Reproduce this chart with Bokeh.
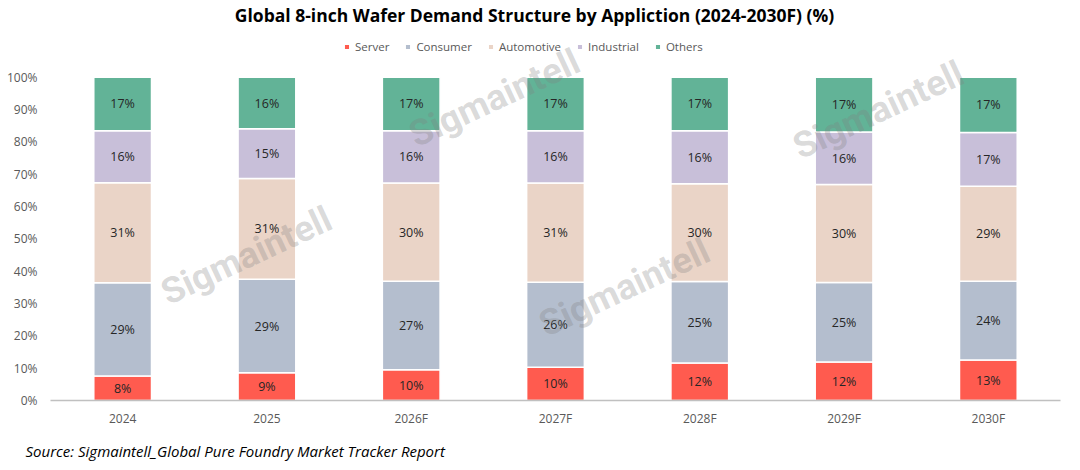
from bokeh.plotting import figure
from bokeh.models import (ColumnDataSource, FactorRange, Range1d, FixedTicker, LabelSet,
                          Label, Legend, LegendItem, Title, CustomJSTickFormatter)
from bokeh.core.properties import value
from bokeh.embed import file_html
from bokeh.resources import INLINE

years = ["2024", "2025", "2026F", "2027F", "2028F", "2029F", "2030F"]
segments = ["Server", "Consumer", "Automotive", "Industrial", "Others"]

# Share of 8-inch wafer demand (%), by application
server = [7.6, 8.6, 9.5, 10.3, 11.6, 11.9, 12.5]
consumer = [28.8, 28.9, 27.4, 26.3, 25.2, 24.6, 24.4]
automotive = [31.0, 31.2, 30.4, 30.7, 30.3, 30.3, 29.4]
industrial = [16.1, 15.4, 16.2, 16.2, 16.4, 16.3, 16.6]
others = [16.5, 15.9, 16.5, 16.5, 16.5, 16.9, 17.1]

y_ticks = [0, 10, 20, 30, 40, 50, 60, 70, 80, 90, 100]

colors = ["#FF5B4F", "#B4BECE", "#EAD4C7", "#C8BFD9", "#62B397"]
FONT = "Open Sans"
TXT = "#262626"
AX = "#595959"

W, H = 1080, 470
LEFT, RIGHT, BOTTOM = 50, 20, 69
AXIS_Y = H - BOTTOM          # canvas row of the 0% line
PLOT_TOP = 77                # canvas row of the 100% line
FW = W - LEFT - RIGHT
Y_MAX = 100 * AXIS_Y / (AXIS_Y - PLOT_TOP)   # headroom above 100% for title and legend

series = [server, consumer, automotive, industrial, others]
data = {"year": years}
for name, vals in zip(segments, series):
    data[name] = vals
src = ColumnDataSource(data)

p = figure(width=W, height=H, x_range=FactorRange(*years), y_range=Range1d(0, Y_MAX),
           output_backend="svg", toolbar_location=None,
           min_border_left=LEFT, min_border_right=RIGHT,
           min_border_top=0, min_border_bottom=BOTTOM)
p.outline_line_color = None


def to_x(px):
    # canvas pixel column -> categorical synthetic coordinate
    return (px - LEFT) / FW * len(years)


def to_y(py):
    # canvas pixel row -> percent
    return (AXIS_Y - py) / AXIS_Y * Y_MAX


renderers = p.vbar_stack(segments, x="year", width=0.4, source=src, color=colors,
                         line_color="white", line_width=1.5)

# segment value labels at each segment's midpoint
for i, name in enumerate(segments):
    base = [sum(s[j] for s in series[:i]) for j in range(len(years))]
    mids = [b + v / 2 for b, v in zip(base, series[i])]
    txt = [f"{int(v + 0.5)}%" for v in series[i]]
    ls = ColumnDataSource({"year": years, "mid": mids, "txt": txt})
    p.add_layout(LabelSet(x="year", y="mid", text="txt", source=ls, text_align="center",
                          text_baseline="middle", text_font=value(FONT),
                          text_font_size="12.5px", text_color=TXT))

# light diagonal watermarks
for wx, wy in [(246, 256), (494, 98), (624, 288), (878, 110)]:
    p.add_layout(Label(x=to_x(wx), y=to_y(wy), text="Sigmaintell", angle=25, angle_units="deg",
                       text_align="center", text_baseline="middle",
                       text_font="Roboto", text_font_style="bold",
                       text_font_size="36px", text_color="#808080", text_alpha=0.3))

p.xgrid.visible = False
p.ygrid.visible = False

p.yaxis.ticker = FixedTicker(ticks=y_ticks)
p.yaxis.formatter = CustomJSTickFormatter(code="return tick + '%';")
p.yaxis.axis_line_color = None
p.yaxis.major_tick_line_color = None
p.yaxis.minor_tick_line_color = None
p.yaxis.major_tick_out = 0
p.yaxis.major_tick_in = 0
p.yaxis.major_label_text_font = FONT
p.yaxis.major_label_text_font_size = "12px"
p.yaxis.major_label_text_color = AX
p.yaxis.major_label_standoff = 13

p.xaxis.axis_line_color = "#C0C0C0"
p.xaxis.axis_line_width = 1.5
p.xaxis.major_tick_line_color = None
p.xaxis.minor_tick_line_color = None
p.xaxis.major_tick_out = 0
p.xaxis.major_tick_in = 0
p.xaxis.major_label_text_font = FONT
p.xaxis.major_label_text_font_size = "12px"
p.xaxis.major_label_text_color = AX
p.xaxis.major_label_standoff = 9
p.x_range.range_padding = 0

legend = Legend(items=[LegendItem(label=n, renderers=[r]) for n, r in zip(segments, renderers)],
                orientation="horizontal", location=(343 - LEFT, AXIS_Y - 55),
                label_text_font=FONT, label_text_font_size="11.5px", label_text_color=AX,
                glyph_width=7, glyph_height=7, label_standoff=5, spacing=15,
                border_line_color=None, background_fill_alpha=0, padding=0, margin=0)
p.add_layout(legend)

p.add_layout(Label(x=to_x(534), y=to_y(15), text="Global 8-inch Wafer Demand Structure by Appliction (2024-2030F) (%)",
                   text_align="center", text_baseline="middle", text_font=FONT,
                   text_font_size="17.5px", text_font_style="bold", text_color="#000000"))

p.add_layout(Title(text="Source: Sigmaintell_Global Pure Foundry Market Tracker Report",
                   align="left", text_font=FONT, text_font_size="15px",
                   text_font_style="italic", text_color="#000000", offset=-25, standoff=19),
             "below")

open("out.html", "w").write(file_html(p, INLINE))
